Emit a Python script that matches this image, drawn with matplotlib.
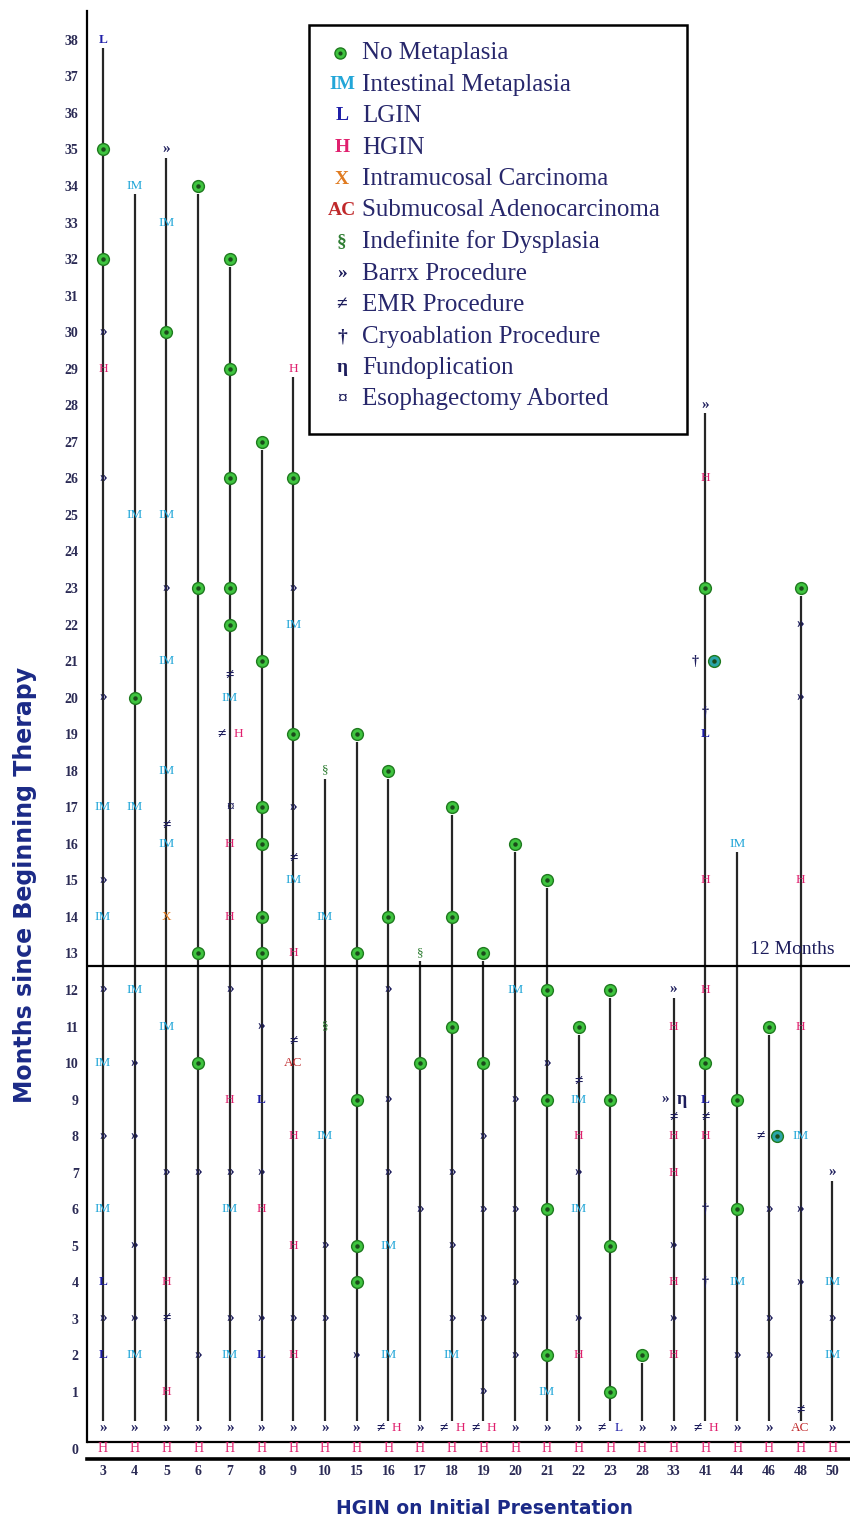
import matplotlib
matplotlib.use("Agg")
import matplotlib.pyplot as plt
from matplotlib.patches import Rectangle

SERIF = ["Liberation Serif", "DejaVu Serif"]

patients = [3, 4, 5, 6, 7, 8, 9, 10, 15, 16, 17, 18, 19, 20, 21, 22, 23, 28, 33, 41, 44, 46, 48, 50]

# (patient, month) pairs for each biopsy finding / procedure
no_metaplasia = [
    (3, 35), (3, 32), (4, 20), (5, 30),
    (6, 34), (6, 23), (6, 13), (6, 10),
    (7, 32), (7, 29), (7, 26), (7, 23), (7, 22),
    (8, 27), (8, 21), (8, 17), (8, 16), (8, 14), (8, 13),
    (9, 26), (9, 19),
    (15, 19), (15, 13), (15, 9), (15, 5), (15, 4),
    (16, 18), (16, 14), (17, 10),
    (18, 17), (18, 14), (18, 11), (19, 13), (19, 10), (20, 16),
    (21, 15), (21, 12), (21, 9), (21, 6), (21, 2),
    (22, 11), (23, 12), (23, 9), (23, 5), (23, 1), (28, 2),
    (41, 23), (41, 10), (44, 9), (44, 6), (46, 11), (48, 23),
]
no_metaplasia_beside = [(41, 21), (46, 8)]

intestinal = [
    (3, 17), (3, 14), (3, 10), (3, 6),
    (4, 34), (4, 25), (4, 17), (4, 12), (4, 2),
    (5, 33), (5, 25), (5, 21), (5, 18), (5, 16), (5, 11),
    (7, 20), (7, 6), (7, 2), (9, 22), (9, 15), (10, 14), (10, 8),
    (16, 5), (16, 2), (18, 2), (20, 12), (21, 1), (22, 9), (22, 6),
    (44, 16), (44, 4), (48, 8), (50, 4), (50, 2),
]

lgin = [(3, 38), (3, 4), (3, 2), (8, 9), (8, 2), (41, 19), (41, 9)]
lgin_beside = [(23, 0)]

hgin = [
    (3, 29), (5, 4), (5, 1), (7, 16), (7, 14), (7, 9), (8, 6),
    (9, 29), (9, 13), (9, 8), (9, 5), (9, 2), (22, 8), (22, 2),
    (33, 11), (33, 8), (33, 7), (33, 4), (33, 2),
    (41, 26), (41, 15), (41, 12), (41, 8), (48, 15), (48, 11),
]
hgin_beside = [(7, 19), (16, 0), (18, 0), (19, 0), (41, 0)]

intramucosal = [(5, 14)]
adenocarcinoma = [(9, 10), (48, 0)]
indefinite = [(10, 18), (10, 11), (17, 13)]

barrx = [
    (3, 30), (3, 26), (3, 20), (3, 15), (3, 12), (3, 8), (3, 3),
    (4, 10), (4, 8), (4, 5), (4, 3), (5, 35), (5, 23), (5, 7),
    (6, 7), (6, 2), (7, 12), (7, 7), (7, 3), (8, 11), (8, 7), (8, 3),
    (9, 23), (9, 17), (9, 3), (10, 5), (10, 3), (15, 2),
    (16, 12), (16, 9), (16, 7), (17, 6), (18, 7), (18, 5), (18, 3),
    (19, 8), (19, 6), (19, 3), (19, 1), (20, 9), (20, 6), (20, 4), (20, 2),
    (21, 10), (22, 7), (22, 3), (33, 12), (33, 5), (33, 3), (41, 28),
    (44, 2), (46, 6), (46, 3), (46, 2), (48, 22), (48, 20), (48, 6), (48, 4),
    (50, 7), (50, 3),
    (3, 0), (4, 0), (5, 0), (6, 0), (7, 0), (8, 0), (9, 0), (10, 0), (15, 0),
    (17, 0), (20, 0), (21, 0), (22, 0), (28, 0), (33, 0), (44, 0), (46, 0), (50, 0),
]
barrx_beside = [(33, 9)]

emr = [(5, 16.5), (5, 3), (7, 20.6), (9, 15.6), (9, 10.6), (22, 9.5),
       (33, 8.5), (41, 8.5), (48, 0.5)]
emr_beside = [(7, 19), (16, 0), (18, 0), (19, 0), (23, 0), (41, 0), (46, 8)]

cryo = [(41, 19.6), (41, 6), (41, 4)]
cryo_beside = [(41, 21)]
fundoplication_beside = [(33, 9)]
esophagectomy_aborted = [(7, 17)]

legend_labels = [
    "No Metaplasia", "Intestinal Metaplasia", "LGIN", "HGIN",
    "Intramucosal Carcinoma", "Submucosal Adenocarcinoma",
    "Indefinite for Dysplasia", "Barrx Procedure", "EMR Procedure",
    "Cryoablation Procedure", "Fundoplication", "Esophagectomy Aborted",
]

NAVY = "#1d1d5c"
C_GREEN, C_GREEN_EDGE = "#3fc43f", "#1f7a1f"
C_TEAL = "#2aa6a8"
C_IM = "#22a6d8"
C_L = "#1f1fa8"
C_H = "#e0206e"
C_X = "#e07b20"
C_AC = "#c0282a"
C_SECT = "#2e7d32"

BASE_Y = -0.56   # row for initial HGIN
SIDE = 0.26      # offset for paired symbols

idx = {p: i for i, p in enumerate(patients)}

fig = plt.figure(figsize=(8.5, 15.22), dpi=100)
ax = fig.add_axes([87 / 850, 46 / 1522, 763 / 850, 1465 / 1522])
ax.set_xlim(-0.505, 23.56)
ax.set_ylim(-1.3, 38.79)

# follow-up lines, one per patient up to the last event
events = (no_metaplasia + intestinal + lgin + hgin + intramucosal + adenocarcinoma
          + indefinite + barrx + emr + cryo + esophagectomy_aborted)
for p in patients:
    top = max(m for q, m in events if q == p)
    ax.plot([idx[p], idx[p]], [0.2, top - 0.22], color="#262626", lw=1.6,
            solid_capstyle="butt", zorder=1)


def put(pairs, s, color, dx=0.0, size=9.5, weight="normal"):
    for p, m in pairs:
        ax.text(idx[p] + dx, m, s, color=color, ha="center", va="center",
                fontsize=size, fontweight=weight, family=SERIF, zorder=3)


def dots(pairs, face, dx=0.0):
    xs = [idx[p] + dx for p, m in pairs]
    ys = [m for p, m in pairs]
    ax.plot(xs, ys, "o", ms=8.5, mfc=face, mec=C_GREEN_EDGE, mew=1.0, zorder=3)
    ax.plot(xs, ys, "o", ms=2.2, color="#1a4a1a", zorder=4)


dots(no_metaplasia, C_GREEN)
dots(no_metaplasia_beside, C_TEAL, dx=SIDE)
put(intestinal, "IM", C_IM)
put(lgin, "L", C_L, weight="bold")
put(lgin_beside, "L", C_L, dx=SIDE)
put(hgin, "H", C_H)
put(hgin_beside, "H", C_H, dx=SIDE)
put(intramucosal, "X", C_X)
put(adenocarcinoma, "AC", C_AC)
put(indefinite, "§", C_SECT)
put(barrx, "»", NAVY, size=11, weight="bold")
put(barrx_beside, "»", NAVY, dx=-SIDE, size=11, weight="bold")
put(emr, "≠", NAVY, size=11, weight="bold")
put(emr_beside, "≠", NAVY, dx=-SIDE, size=11, weight="bold")
put(cryo, "†", NAVY, size=10, weight="bold")
put(cryo_beside, "†", NAVY, dx=-SIDE - 0.05, size=10, weight="bold")
put(fundoplication_beside, "η", NAVY, dx=SIDE, size=13, weight="bold")
put(esophagectomy_aborted, "¤", NAVY, size=11, weight="bold")

# initial presentation row
for p in patients:
    ax.text(idx[p], BASE_Y, "H", color=C_H, ha="center", va="center",
            fontsize=10, family=SERIF, zorder=3)

# frame
for s in ("top", "right"):
    ax.spines[s].set_visible(False)
ax.spines["left"].set_bounds(-0.37, 38.79)
ax.spines["left"].set_linewidth(1.6)
ax.spines["bottom"].set_position(("data", -0.835))
ax.spines["bottom"].set_linewidth(2.6)
ax.axhline(-0.37, color="black", lw=1.6, zorder=2)
ax.axhline(12.66, color="black", lw=1.6, zorder=2)
ax.text(20.41, 13.1, "12 Months", color=NAVY, fontsize=14, family=SERIF,
        ha="left", va="center")

ax.set_xticks(range(len(patients)))
ax.set_xticklabels([str(p) for p in patients])
ax.set_yticks([BASE_Y] + list(range(1, 39)))
ax.set_yticklabels(["0"] + [str(m) for m in range(1, 39)])
ax.tick_params(axis="both", length=0, colors="#2b2b55")
ax.tick_params(axis="y", pad=6)
ax.tick_params(axis="x", pad=4)
for lab in ax.get_xticklabels() + ax.get_yticklabels():
    lab.set_family(SERIF)
    lab.set_fontweight("bold")
    lab.set_fontsize(10)

fig.text(25 / 850, 1 - 885 / 1522, "Months since Beginning Therapy",
         rotation=90, ha="center", va="center", fontsize=17,
         fontweight="bold", color="#1b2a87", family="DejaVu Sans")
fig.text(485 / 850, 1 - 1508 / 1522, "HGIN on Initial Presentation",
         ha="center", va="center", fontsize=13.5, fontweight="bold",
         color="#1b2a87", family="DejaVu Sans")

# legend box
fig.patches.append(Rectangle((309 / 850, 1 - 434 / 1522), 378 / 850, 409 / 1522,
                             transform=fig.transFigure, fill=False,
                             edgecolor="black", lw=1.8))
legend_symbols = [None, ("IM", C_IM), ("L", C_L), ("H", C_H), ("X", C_X),
                  ("AC", C_AC), ("§", C_SECT), ("»", NAVY), ("≠", NAVY),
                  ("†", NAVY), ("η", NAVY), ("¤", NAVY)]
for k, (label, sym) in enumerate(zip(legend_labels, legend_symbols)):
    ypx = 53 + 31.5 * k
    yf = 1 - ypx / 1522
    if sym is None:
        fig.lines.append(plt.Line2D([340 / 850], [yf], marker="o", ms=8,
                                    mfc=C_GREEN, mec=C_GREEN_EDGE, mew=1,
                                    transform=fig.transFigure))
        fig.lines.append(plt.Line2D([340 / 850], [yf], marker="o", ms=2,
                                    color="#1a4a1a", transform=fig.transFigure))
    else:
        fig.text(342 / 850, yf, sym[0], color=sym[1], ha="center", va="center",
                 fontsize=14, fontweight="bold", family=SERIF)
    fig.text(362 / 850, yf, label, color="#27276b", ha="left", va="center",
             fontsize=18, family=SERIF)

fig.savefig("out.png", dpi=100)
